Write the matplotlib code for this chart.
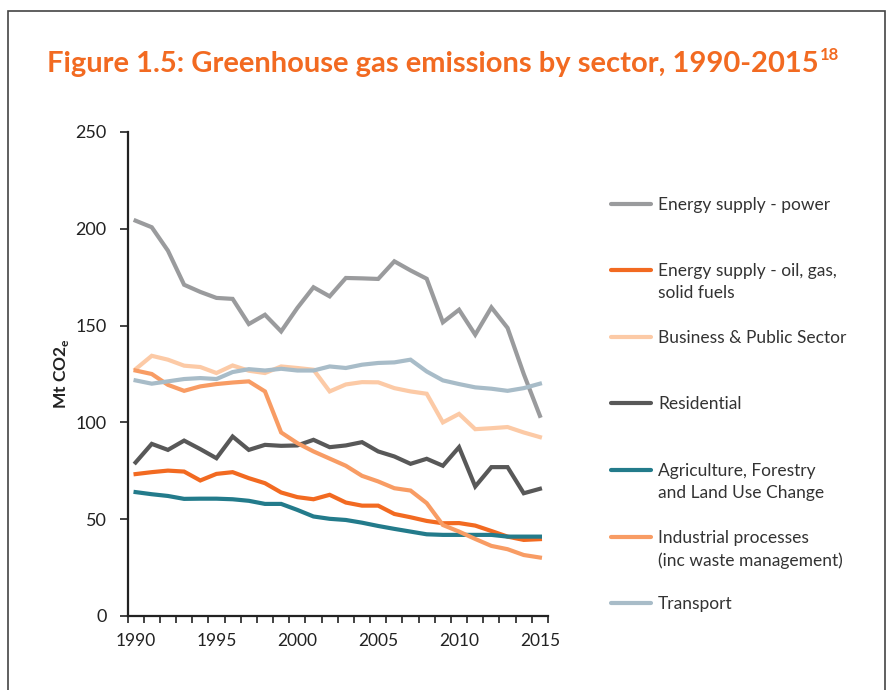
import numpy as np
import matplotlib.pyplot as plt
from matplotlib.lines import Line2D
from matplotlib.patches import Rectangle

plt.rcParams['font.family'] = ['Lato', 'DejaVu Sans']

years = list(range(1990, 2016))
power = [204.2, 200.8, 188.7, 171.1, 167.4, 164.3, 163.8, 150.8, 155.6, 147.0, 159.1, 169.8, 165.1,
         174.6, 174.4, 174.1, 183.2, 178.5, 174.2, 151.7, 158.2, 145.3, 159.4, 148.8, 125.0, 103.4]
oil = [73.3, 74.3, 75.1, 74.6, 70.0, 73.4, 74.3, 71.2, 68.6, 63.8, 61.4, 60.3, 62.6,
       58.6, 57.0, 57.0, 52.7, 51.0, 49.1, 47.9, 48.0, 46.7, 43.9, 41.0, 39.3, 39.7]
business = [127.5, 134.4, 132.4, 129.3, 128.6, 125.5, 129.4, 126.7, 125.5, 128.9, 128.1, 127.2, 116.0,
            119.6, 120.8, 120.7, 117.7, 116.0, 114.8, 100.0, 104.4, 96.5, 97.0, 97.6, 94.8, 92.4]
residential = [79.3, 88.9, 85.8, 90.6, 86.2, 81.5, 92.7, 85.8, 88.4, 87.9, 88.1, 91.0, 87.2,
               88.1, 89.8, 85.0, 82.4, 78.6, 81.2, 77.6, 87.2, 66.9, 76.9, 76.9, 63.4, 65.7]
agriculture = [64.0, 62.9, 62.0, 60.5, 60.6, 60.6, 60.3, 59.5, 57.9, 57.9, 54.8, 51.4, 50.2,
               49.6, 48.2, 46.5, 45.0, 43.6, 42.2, 41.9, 41.9, 41.9, 41.9, 41.0, 41.0, 41.0]
industrial = [126.8, 125.0, 119.4, 116.3, 118.6, 119.8, 120.6, 121.2, 116.0, 94.8, 89.3, 85.0, 81.3,
              77.6, 72.4, 69.5, 66.0, 64.8, 58.3, 47.0, 43.6, 39.8, 36.2, 34.5, 31.5, 30.2]
transport = [121.7, 120.0, 121.2, 122.4, 122.9, 122.4, 126.0, 127.5, 126.8, 127.7, 126.8, 126.8, 128.9,
             128.1, 129.8, 130.7, 131.0, 132.4, 126.3, 121.7, 119.8, 118.1, 117.4, 116.3, 117.7, 120.0]

labels = ['Energy supply - power', 'Energy supply - oil, gas,\nsolid fuels', 'Business & Public Sector',
          'Residential', 'Agriculture, Forestry\nand Land Use Change',
          'Industrial processes\n(inc waste management)', 'Transport']
colors = ['#9a9b9d', '#f26a21', '#fccaa6', '#585858', '#237b8b', '#f89c64', '#a8bcc8']
series = [power, oil, business, residential, agriculture, industrial, transport]

W, H = 886, 690
fig = plt.figure(figsize=(8.86, 6.9), dpi=100)
ax = fig.add_axes([127.5 / W, 1 - 616 / H, 420.5 / W, 484 / H])

for s, c in zip(series, colors):
    ax.plot(years, s, color=c, lw=3, solid_joinstyle='miter')

ax.set_xlim(1989.5, 2015.5)
ax.set_ylim(0, 250)
ax.set_yticks(range(0, 251, 50))
ax.set_xticks(np.arange(1989.5, 2016, 1))
ax.set_xticklabels([])
ax.set_xticks(range(1990, 2016, 5), minor=True)
ax.set_xticklabels([str(y) for y in range(1990, 2016, 5)], minor=True)
ax.tick_params(axis='x', which='minor', length=0, pad=12, labelsize=12.5, colors='#222222')
ax.tick_params(axis='x', which='major', length=5, width=1.2, color='#222222')
ax.tick_params(axis='y', length=6, width=1.2, pad=9, labelsize=13, color='#222222', labelcolor='#222222')
for sp in ['top', 'right']:
    ax.spines[sp].set_visible(False)
for sp in ['left', 'bottom']:
    ax.spines[sp].set_linewidth(1.6)
    ax.spines[sp].set_color('#222222')

ax.set_ylabel('Mt CO2$_\\mathregular{e}$', fontsize=12.5, fontweight='bold', color='#222222', labelpad=3)

# legend drawn by hand so the line sits on the first text line
ly = [204, 270, 337, 403, 470, 537, 603]
for y, lab, c in zip(ly, labels, colors):
    fig.add_artist(Line2D([611 / W, 651 / W], [1 - y / H, 1 - y / H], color=c, lw=3,
                          solid_capstyle='round'))
    fig.text(658 / W, 1 - (y - 7) / H, lab, ha='left', va='top', fontsize=12.5,
             color='#333333', linespacing=1.45)

# title with superscript footnote
t = fig.text(47 / W, 1 - 72 / H, 'Figure 1.5: Greenhouse gas emissions by sector, 1990-2015',
             ha='left', va='baseline', fontsize=21, fontweight='bold', color='#f26a21')
fig.canvas.draw()
bb = t.get_window_extent()
fig.text(bb.x1 / W + 0.001, 1 - 60 / H, '18', ha='left', va='baseline', fontsize=12,
         fontweight='bold', color='#f26a21')

# outer frame
fig.add_artist(Rectangle((8 / W, -0.05), 877 / W, 1.05 - 11 / H, transform=fig.transFigure,
                         fill=False, edgecolor='#444444', lw=1.2))

fig.savefig('out.png', dpi=100)
